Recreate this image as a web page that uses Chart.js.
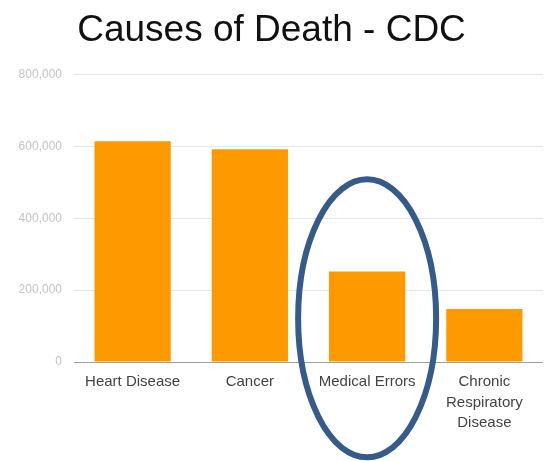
<!DOCTYPE html>
<html>
<head>
<meta charset="utf-8">
<script src="https://cdn.jsdelivr.net/npm/chart.js@4"></script>
<style>
  html, body { margin: 0; padding: 0; background: #fff; }
  #wrap { width: 545px; height: 461px; }
</style>
</head>
<body>
<div id="wrap"><canvas id="deathChart"></canvas></div>
<script>
// ==== data ====
const causes = ["Heart Disease", "Cancer", "Medical Errors", ["Chronic", "Respiratory", "Disease"]];
const deaths = [614348, 591699, 251454, 147101];
const yTicks = [0, 200000, 400000, 600000, 800000];

// ring drawn round the "Medical Errors" bar
const ringPlugin = {
  id: "ring",
  afterDraw(chart) {
    const x = chart.scales.x, y = chart.scales.y;
    const ctx = chart.ctx;
    const cx = x.getPixelForValue(2);
    const top = y.getPixelForValue(508000);
    const ry = 139, rx = 69;
    ctx.save();
    ctx.beginPath();
    ctx.ellipse(cx, top + ry, rx, ry, 0, 0, Math.PI * 2);
    ctx.lineWidth = 6;
    ctx.strokeStyle = "#355b8b";
    ctx.stroke();
    ctx.restore();
  }
};

new Chart(document.getElementById("deathChart").getContext("2d"), {
  type: "bar",
  data: {
    labels: causes,
    datasets: [{
      label: "Deaths",
      data: deaths,
      backgroundColor: "#ff9900",
      borderWidth: 0,
      categoryPercentage: 1,
      barPercentage: 0.65
    }]
  },
  options: {
    responsive: true,
    maintainAspectRatio: false,
    animation: false,
    layout: { padding: { left: 0, right: 2, top: 0, bottom: 0 } },
    plugins: {
      legend: { display: false },
      tooltip: { enabled: false },
      title: {
        display: true,
        text: "Causes of Death - CDC",
        color: "#111",
        font: { family: "'Liberation Sans', Arial, sans-serif", size: 37, weight: "normal" },
        padding: { top: 9, bottom: 21 }
      }
    },
    scales: {
      x: {
        grid: { display: false },
        border: { display: false },
        ticks: {
          color: "#444",
          font: { family: "'Liberation Sans', Arial, sans-serif", size: 15, lineHeight: 1.35 },
          maxRotation: 0,
          autoSkip: false,
          padding: 2
        },
        afterFit: s => { s.height = 99; }
      },
      y: {
        min: 0,
        max: 800000,
        border: { display: false },
        grid: {
          drawTicks: false,
          color: c => c.tick.value === 0 ? "#a0a0a0" : "#e6e6e6"
        },
        afterBuildTicks: s => { s.ticks = yTicks.map(v => ({ value: v })); },
        ticks: {
          color: "#c4c4c4",
          font: { family: "'Liberation Sans', Arial, sans-serif", size: 12 },
          padding: 12,
          callback: v => v.toLocaleString("en-US")
        },
        afterFit: s => { s.width = 74; }
      }
    }
  },
  plugins: [ringPlugin]
});
</script>
</body>
</html>
